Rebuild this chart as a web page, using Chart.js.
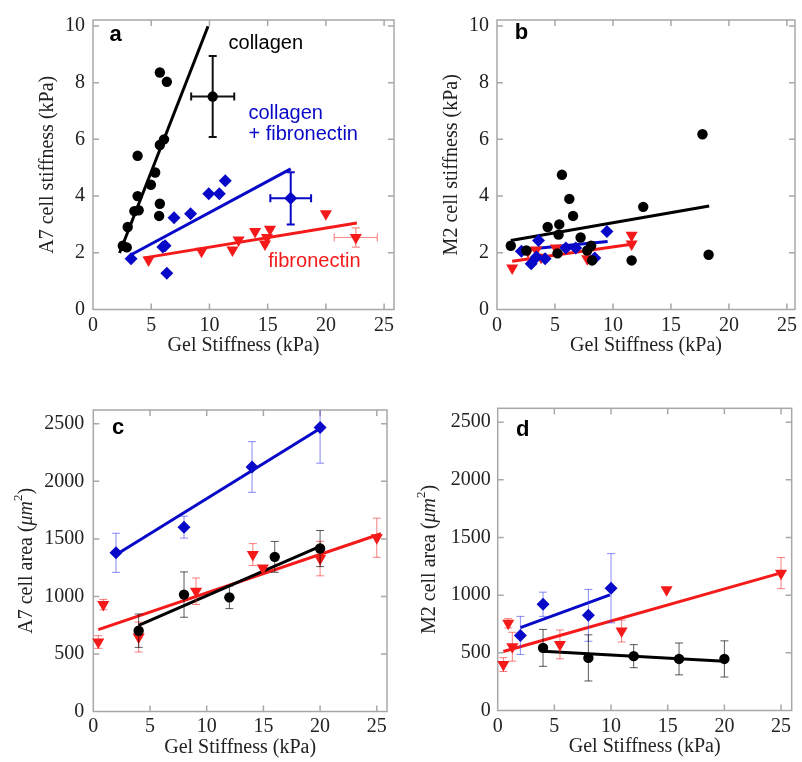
<!DOCTYPE html>
<html>
<head>
<meta charset="utf-8">
<script src="https://cdn.jsdelivr.net/npm/chart.js@4.4.1/dist/chart.umd.min.js"></script>
<style>
  html, body { margin: 0; padding: 0; background: #fff; }
  #wrap { position: relative; width: 802px; height: 762px; }
  canvas { position: absolute; }
</style>
</head>
<body>
<div id="wrap">
  <canvas id="chartA" width="401" height="381" style="left:0;top:0"></canvas>
  <canvas id="chartB" width="401" height="381" style="left:401px;top:0"></canvas>
  <canvas id="chartC" width="401" height="381" style="left:0;top:381px"></canvas>
  <canvas id="chartD" width="401" height="381" style="left:401px;top:381px"></canvas>
</div>
<script>
// tick labels
var xTicks = [0, 5, 10, 15, 20, 25];
var yTicksStiff = [0, 2, 4, 6, 8, 10];
var yTicksArea = [0, 500, 1000, 1500, 2000, 2500];

// ---- panel a : A7 cell stiffness vs gel stiffness
var aColX = [2.56, 2.9, 2.98, 3.55, 3.92, 3.83, 3.83, 4.97, 5.34, 5.74, 6.1, 5.74, 5.68, 5.74, 6.34];
var aColY = [2.25, 2.19, 2.91, 3.47, 3.5, 4.0, 5.42, 4.4, 4.83, 5.8, 6.0, 3.73, 3.3, 8.36, 8.03];
var aColFitX = [2.28, 9.88], aColFitY = [1.99, 9.99];
var aColMeanX = [10.28], aColMeanY = [7.51], aColErrX = [1.85], aColErrY = [1.43];

var aMixX = [3.27, 6.19, 6.0, 6.34, 6.96, 8.38, 9.94, 10.85, 11.36];
var aMixY = [1.79, 2.25, 2.2, 1.28, 3.24, 3.38, 4.08, 4.08, 4.54];
var aMixFitX = [3.27, 16.98], aMixFitY = [1.93, 4.96];
var aMixMeanX = [16.98], aMixMeanY = [3.92], aMixErrX = [1.75], aMixErrY = [0.92];

var aFnX = [4.77, 9.32, 11.98, 12.5, 13.92, 14.77, 14.94, 15.2, 20.0];
var aFnY = [1.75, 2.05, 2.1, 2.45, 2.75, 2.31, 2.54, 2.83, 3.38];
var aFnFitX = [4.4, 22.66], aFnFitY = [1.82, 3.05];
var aFnMeanX = [22.57], aFnMeanY = [2.54], aFnErrX = [1.85], aFnErrY = [0.34];

// ---- panel b : M2 cell stiffness
var bColX = [1.19, 2.53, 4.37, 5.37, 5.31, 5.6, 6.24, 6.56, 7.21, 8.12, 7.78, 8.2, 5.22, 11.61, 12.61, 17.72, 18.25];
var bColY = [2.25, 2.08, 2.91, 3.0, 2.64, 4.75, 3.9, 3.3, 2.54, 2.25, 2.08, 1.73, 1.98, 1.73, 3.62, 6.18, 1.93];
var bColFitX = [1.19, 18.3], bColFitY = [2.43, 3.65];
var bMixX = [2.1, 2.95, 3.58, 4.15, 5.94, 6.79, 8.43, 9.48, 3.4];
var bMixY = [2.05, 1.61, 2.43, 1.79, 2.17, 2.17, 1.82, 2.75, 1.85];
var bMixFitX = [1.96, 9.54], bMixFitY = [2.1, 2.4];
var bFnX = [1.31, 2.67, 3.38, 3.8, 5.08, 7.78, 11.61, 11.61];
var bFnY = [1.46, 2.05, 2.1, 1.84, 2.17, 1.79, 2.62, 2.31];
var bFnFitX = [1.31, 11.76], bFnFitY = [1.7, 2.31];

// ---- panel c : A7 cell area
var cColX = [4, 8, 12, 16, 20];
var cColY = [702, 1016, 992, 1344, 1416];
var cColErr = [145, 197, 98, 134, 157];
var cColFitX = [4, 20], cColFitY = [748, 1436];
var cMixX = [2, 8, 14, 20];
var cMixY = [1379, 1602, 2125, 2468];
var cMixErr = [170, 95, 220, 310];
var cMixFitX = [2, 20], cMixFitY = [1362, 2460];
var cFnX = [0.44, 0.88, 4, 9.06, 14.07, 14.95, 20, 25];
var cFnY = [604, 929, 647, 1045, 1364, 1248, 1329, 1510];
var cFnErr = [55, 45, 130, 115, 95, 0, 150, 170];
var cFnFitX = [0.44, 25.37], cFnFitY = [711, 1545];

// ---- panel d : M2 cell area
var dColX = [4, 8, 12, 16, 20];
var dColY = [543, 456, 471, 447, 447];
var dColErr = [160, 200, 100, 138, 157];
var dColFitX = [4, 20], dColFitY = [514, 427];
var dMixX = [2, 4, 8, 10];
var dMixY = [651, 921, 825, 1060];
var dMixErr = [165, 105, 225, 300];
var dMixFitX = [2, 9.9], dMixFitY = [718, 1003];
var dFnX = [0.5, 0.93, 1.29, 5.49, 10.93, 14.9, 25];
var dFnY = [398, 756, 553, 573, 689, 1046, 1191];
var dFnErr = [60, 40, 125, 125, 95, 0, 135];
var dFnFitX = [0.5, 25], dFnFitY = [511, 1193];

var xTitle = 'Gel Stiffness (kPa)';
var BLACK = '#000000', BLUE = '#0808c8', RED = '#f51a1a';
var SERIF = "'Liberation Serif', 'Times New Roman', serif";
var SANS = "'Liberation Sans', Arial, sans-serif";

// y title of the area panels, with italic unit and superscript
function areaTitle(cell) {
    return [
        { text: cell + ' cell area (', font: '20px ' + SERIF },
        { text: '\u03bcm', font: 'italic 20px ' + SERIF },
        { text: '2', font: '13px ' + SERIF, dy: -8 },
        { text: ')', font: '20px ' + SERIF }
    ];
}

function pts(xs, ys) {
    return xs.map(function (x, i) { return { x: x, y: ys[i] }; });
}

function markers(xs, ys, kind, extra) {
    var ds = {
        data: pts(xs, ys),
        showLine: false,
        clip: false,
        pointBorderWidth: 0
    };
    if (kind === 'circle') {
        ds.pointStyle = 'circle'; ds.pointRadius = 5.2;
        ds.backgroundColor = BLACK; ds.borderColor = BLACK;
    } else if (kind === 'diamond') {
        ds.pointStyle = 'rectRot'; ds.pointRadius = 6.5;
        ds.backgroundColor = BLUE; ds.borderColor = BLUE;
    } else {
        ds.pointStyle = 'triangle'; ds.pointRadius = 7; ds.pointRotation = 180;
        ds.backgroundColor = RED; ds.borderColor = RED;
    }
    return Object.assign(ds, extra || {});
}

function fitLine(xs, ys, color) {
    return {
        data: pts(xs, ys),
        showLine: true,
        borderColor: color,
        borderWidth: 3,
        pointRadius: 0,
        fill: false
    };
}

// error bars, drawn with the chart's own scales
var errorBars = {
    id: 'errorBars',
    beforeDatasetDraw: function (chart, args) {
        var ds = chart.data.datasets[args.index];
        if (!ds.errY && !ds.errX) return;
        var xs = chart.scales.x, ys = chart.scales.y, ctx = chart.ctx, area = chart.chartArea;
        var cap = ds.errCap || 4;
        ctx.save();
        ctx.beginPath();
        ctx.rect(area.left, area.top, area.right - area.left, area.bottom - area.top);
        ctx.clip();
        ctx.strokeStyle = ds.errColor;
        ctx.lineWidth = ds.errWidth || 1;
        ds.data.forEach(function (p, i) {
            var px = xs.getPixelForValue(p.x), py = ys.getPixelForValue(p.y);
            ctx.beginPath();
            if (ds.errY && ds.errY[i]) {
                var y1 = ys.getPixelForValue(p.y + ds.errY[i]), y2 = ys.getPixelForValue(p.y - ds.errY[i]);
                ctx.moveTo(px, y1); ctx.lineTo(px, y2);
                ctx.moveTo(px - cap, y1); ctx.lineTo(px + cap, y1);
                ctx.moveTo(px - cap, y2); ctx.lineTo(px + cap, y2);
            }
            if (ds.errX && ds.errX[i]) {
                var x1 = xs.getPixelForValue(p.x - ds.errX[i]), x2 = xs.getPixelForValue(p.x + ds.errX[i]);
                ctx.moveTo(x1, py); ctx.lineTo(x2, py);
                ctx.moveTo(x1, py - cap); ctx.lineTo(x1, py + cap);
                ctx.moveTo(x2, py - cap); ctx.lineTo(x2, py + cap);
            }
            ctx.stroke();
        });
        ctx.restore();
    }
};

// grey box with inward ticks on every side
var frame = {
    id: 'frame',
    beforeDatasetsDraw: function (chart) {
        var ctx = chart.ctx, a = chart.chartArea, len = 6;
        ctx.save();
        ctx.strokeStyle = '#a8a8a8';
        ctx.lineWidth = 1.5;
        ctx.strokeRect(a.left, a.top, a.right - a.left, a.bottom - a.top);
        ctx.beginPath();
        chart.scales.x.ticks.forEach(function (t) {
            if (t.value === 0) return;
            var px = chart.scales.x.getPixelForValue(t.value);
            ctx.moveTo(px, a.bottom); ctx.lineTo(px, a.bottom - len);
            ctx.moveTo(px, a.top); ctx.lineTo(px, a.top + len);
        });
        chart.scales.y.ticks.forEach(function (t) {
            if (t.value === 0) return;
            var py = chart.scales.y.getPixelForValue(t.value);
            ctx.moveTo(a.left, py); ctx.lineTo(a.left + len, py);
            ctx.moveTo(a.right, py); ctx.lineTo(a.right - len, py);
        });
        ctx.stroke();
        ctx.restore();
    }
};

// panel letter, series captions and the rich y title
var notes = {
    id: 'notes',
    afterDraw: function (chart) {
        var o = chart.options.plugins.notes;
        var ctx = chart.ctx, xs = chart.scales.x, ys = chart.scales.y, a = chart.chartArea;
        ctx.save();
        ctx.textBaseline = 'middle';
        ctx.textAlign = 'left';
        (o.items || []).forEach(function (n) {
            ctx.font = n.font;
            ctx.fillStyle = n.color;
            ctx.fillText(n.text, xs.getPixelForValue(n.x), ys.getPixelForValue(n.y));
        });
        if (o.yParts) {
            ctx.translate(o.yX, (a.top + a.bottom) / 2);
            ctx.rotate(-Math.PI / 2);
            ctx.fillStyle = '#222';
            var total = 0;
            o.yParts.forEach(function (p) { ctx.font = p.font; p.w = ctx.measureText(p.text).width; total += p.w; });
            var cx = -total / 2;
            o.yParts.forEach(function (p) { ctx.font = p.font; ctx.fillText(p.text, cx, p.dy || 0); cx += p.w; });
        }
        ctx.restore();
    }
};

function tickSetter(values) {
    return function (s) { s.ticks = values.map(function (v) { return { value: v }; }); };
}

function makePanel(id, p) {
    var tickFont = { family: SERIF, size: 20 };
    return new Chart(document.getElementById(id), {
        type: 'scatter',
        data: { datasets: p.datasets },
        plugins: [frame, errorBars, notes],
        options: {
            responsive: false,
            animation: false,
            events: [],
            layout: { padding: p.pad },
            plugins: {
                legend: { display: false },
                tooltip: { enabled: false },
                notes: { items: p.notes, yParts: p.yParts, yX: p.yX }
            },
            scales: {
                x: {
                    type: 'linear', min: 0, max: p.xMax,
                    grid: { display: false, drawTicks: false },
                    border: { display: false },
                    afterBuildTicks: tickSetter(xTicks),
                    ticks: { padding: p.xPad, font: tickFont, color: '#222', maxRotation: 0,
                             callback: function (v) { return String(v); } },
                    title: { display: true, text: xTitle, font: tickFont, color: '#222', padding: 0 },
                    afterFit: function (s) { s.height = p.xH; }
                },
                y: {
                    type: 'linear', min: 0, max: p.yMax,
                    grid: { display: false, drawTicks: false },
                    border: { display: false },
                    afterBuildTicks: tickSetter(p.yTicks),
                    ticks: { padding: p.yPad, font: tickFont, color: '#222',
                             callback: function (v) { return String(v); } },
                    title: { display: !!p.yTitle, text: p.yTitle || '', font: tickFont, color: '#222', padding: 0 },
                    afterFit: function (s) { s.width = p.yW; }
                }
            }
        }
    });
}

var letterFont = 'bold 22px ' + SANS, noteFont = '20px ' + SANS;

makePanel('chartA', {
    xMax: 25.85, yMax: 10.21, yTicks: yTicksStiff, yTitle: 'A7 cell stiffness (kPa)',
    pad: { left: 36, top: 17, right: 4, bottom: 23 }, yW: 57, xH: 48.5, xPad: 4, yPad: 8,
    datasets: [
        markers(aColMeanX, aColMeanY, 'circle', { errX: aColErrX, errY: aColErrY, errColor: '#111', errWidth: 2, errCap: 4 }),
        markers(aMixMeanX, aMixMeanY, 'diamond', { errX: aMixErrX, errY: aMixErrY, errColor: BLUE, errWidth: 2, errCap: 4 }),
        markers(aFnMeanX, aFnMeanY, 'triangle', { errX: aFnErrX, errY: aFnErrY, errColor: 'rgba(240,40,40,0.55)', errWidth: 1.2, errCap: 4 }),
        markers(aColX, aColY, 'circle'),
        markers(aMixX, aMixY, 'diamond'),
        markers(aFnX, aFnY, 'triangle'),
        fitLine(aColFitX, aColFitY, BLACK),
        fitLine(aMixFitX, aMixFitY, BLUE),
        fitLine(aFnFitX, aFnFitY, RED)
    ],
    notes: [
        { text: 'a', x: 1.42, y: 9.69, color: '#000', font: letterFont },
        { text: 'collagen', x: 11.64, y: 9.37, color: BLACK, font: noteFont },
        { text: 'collagen', x: 13.35, y: 6.93, color: BLUE, font: noteFont },
        { text: '+ fibronectin', x: 13.35, y: 6.16, color: BLUE, font: noteFont },
        { text: 'fibronectin', x: 15.05, y: 1.69, color: RED, font: noteFont }
    ]
});

makePanel('chartB', {
    xMax: 25.7, yMax: 10.21, yTicks: yTicksStiff, yTitle: 'M2 cell stiffness (kPa)',
    pad: { left: 39, top: 17, right: 2, bottom: 23 }, yW: 57, xH: 48.5, xPad: 4, yPad: 8,
    datasets: [
        markers(bColX, bColY, 'circle'),
        markers(bMixX, bMixY, 'diamond'),
        markers(bFnX, bFnY, 'triangle'),
        fitLine(bColFitX, bColFitY, BLACK),
        fitLine(bMixFitX, bMixFitY, BLUE),
        fitLine(bFnFitX, bFnFitY, RED)
    ],
    notes: [
        { text: 'b', x: 1.53, y: 9.75, color: '#000', font: letterFont }
    ]
});

makePanel('chartC', {
    xMax: 25.9, yMax: 2620, yTicks: yTicksArea, yParts: areaTitle('A7'), yX: 27,
    pad: { left: 10, top: 29, right: 14, bottom: 2 }, yW: 83.3, xH: 48.5, xPad: 3.5, yPad: 9,
    datasets: [
        markers(cColX, cColY, 'circle', { errY: cColErr, errColor: 'rgba(0,0,0,0.65)', errWidth: 1, errCap: 4 }),
        markers(cMixX, cMixY, 'diamond', { errY: cMixErr, errColor: 'rgba(60,60,240,0.6)', errWidth: 1, errCap: 4 }),
        markers(cFnX, cFnY, 'triangle', { errY: cFnErr, errColor: 'rgba(240,40,40,0.6)', errWidth: 1, errCap: 4 }),
        fitLine(cColFitX, cColFitY, BLACK),
        fitLine(cMixFitX, cMixFitY, BLUE),
        fitLine(cFnFitX, cFnFitY, RED)
    ],
    notes: [
        { text: 'c', x: 1.65, y: 2468, color: '#000', font: letterFont }
    ]
});

makePanel('chartD', {
    xMax: 25.94, yMax: 2620, yTicks: yTicksArea, yParts: areaTitle('M2'), yX: 29,
    pad: { left: 10, top: 27.3, right: 10.3, bottom: 3 }, yW: 86.7, xH: 48.5, xPad: 4, yPad: 7,
    datasets: [
        markers(dColX, dColY, 'circle', { errY: dColErr, errColor: 'rgba(0,0,0,0.65)', errWidth: 1, errCap: 4 }),
        markers(dMixX, dMixY, 'diamond', { errY: dMixErr, errColor: 'rgba(60,60,240,0.6)', errWidth: 1, errCap: 4 }),
        markers(dFnX, dFnY, 'triangle', { errY: dFnErr, errColor: 'rgba(240,40,40,0.6)', errWidth: 1, errCap: 4 }),
        fitLine(dColFitX, dColFitY, BLACK),
        fitLine(dMixFitX, dMixFitY, BLUE),
        fitLine(dFnFitX, dFnFitY, RED)
    ],
    notes: [
        { text: 'd', x: 1.62, y: 2433, color: '#000', font: letterFont }
    ]
});
</script>
</body>
</html>
